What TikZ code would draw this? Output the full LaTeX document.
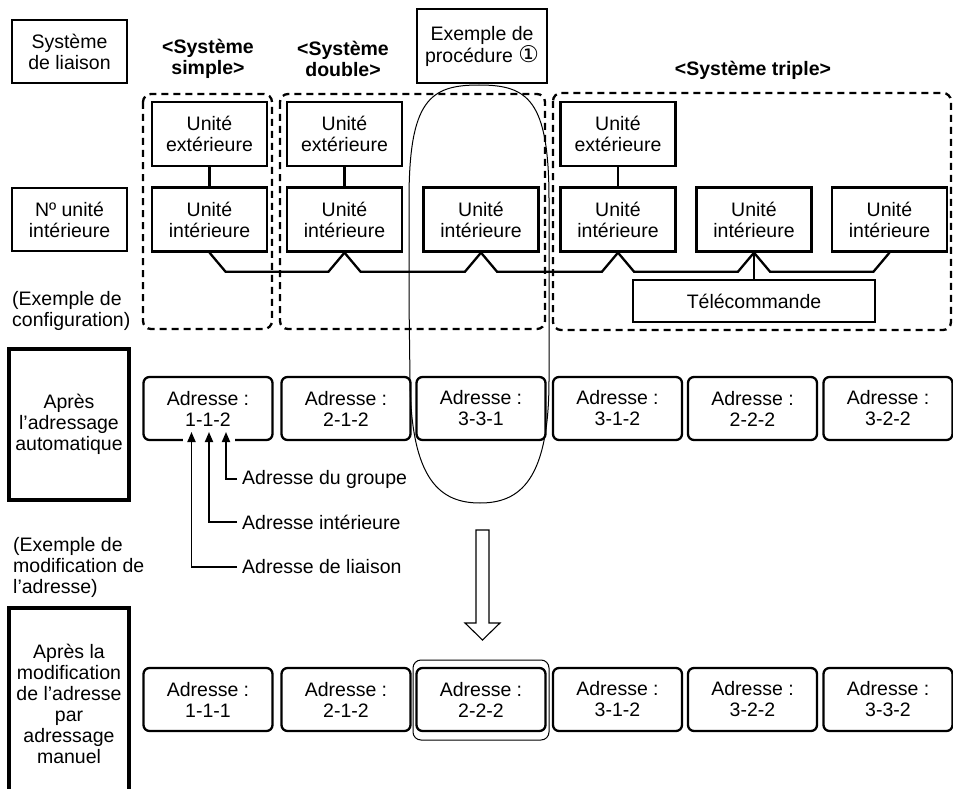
\documentclass[tikz,border=0pt]{standalone}
\usepackage{fontspec}
\setmainfont{Liberation Sans}
\newfontfamily\dejavu{DejaVu Sans}
\usetikzlibrary{arrows.meta,calc}
\begin{document}
\begin{tikzpicture}[x=1pt,y=-1pt,
  font=\fontsize{19.5}{21}\selectfont,
  hbox/.style={draw, line width=2.3pt, align=center, inner sep=0pt},
  unitbox/.style={hbox, minimum width=115pt, minimum height=64pt},
  addrbox/.style={draw, line width=2.3pt, rounded corners=6pt, align=center, inner sep=0pt, minimum width=129pt, minimum height=63pt},
  thickbox/.style={draw, line width=4.5pt, align=center, inner sep=0pt},
  grp/.style={draw, line width=2.3pt, dash pattern=on 7pt off 5pt, rounded corners=8pt},
  wire/.style={line width=2.3pt},
  ptr/.style={line width=1.8pt, -{Triangle[length=10pt,width=8pt]}},
  title/.style={font=\fontsize{19.5}{21}\selectfont\bfseries, align=center, inner sep=0pt},
  lbl/.style={align=left, inner sep=0pt},
  thinline/.style={line width=1pt}
]
\useasboundingbox (0,0) rectangle (953,789);

% header boxes
\node[hbox, minimum width=115pt, minimum height=63pt] (h1) at (69.5,51.5) {Système\\de liaison};
\node[hbox, minimum width=115pt, minimum height=63pt] (h2) at (69.5,219.5) {Nº unité\\intérieure};
\node[hbox, minimum width=130pt, minimum height=74pt] (proc) at (482,46) {Exemple de\\procédure {\dejavu\fontsize{23}{21}\selectfont ①}};

% titles
\node[title] (t1) at (208,58.5) {<Système\\simple>};
\node[title] (t2) at (343,58.5) {<Système\\double>};
\node[title] (t3) at (753,70) {<Système triple>};

% dashed groups
\draw[grp] (143,94) rectangle (272,329);
\draw[grp] (280,94) rectangle (545,329);
\draw[grp] (553,93) rectangle (951,330);

% units
\node[unitbox] (so1) at (209.5,134) {Unité\\extérieure};
\node[unitbox] (si1) at (209.5,219.5) {Unité\\intérieure};
\node[unitbox] (do1) at (344.5,134) {Unité\\extérieure};
\node[unitbox] (di1) at (344.5,219.5) {Unité\\intérieure};
\node[unitbox] (di2) at (481,219.5) {Unité\\intérieure};
\node[unitbox] (to1) at (618,134) {Unité\\extérieure};
\node[unitbox] (ti1) at (618,219.5) {Unité\\intérieure};
\node[unitbox] (ti2) at (754,219.5) {Unité\\intérieure};
\node[unitbox] (ti3) at (889.5,219.5) {Unité\\intérieure};
\node[hbox, minimum width=242pt, minimum height=42pt] (tc) at (754,301) {Télécommande};

\draw[wire] (so1) -- (si1);
\draw[wire] (do1) -- (di1);
\draw[wire] (to1) -- (ti1);
\draw[wire] (ti2.south) -- (tc.north);
\draw[wire, line join=miter]
  (si1.south) -- ([shift={(16,19)}]si1.south)
  -- ([shift={(-16,19)}]di1.south) -- (di1.south) -- ([shift={(16,19)}]di1.south)
  -- ([shift={(-16,19)}]di2.south) -- (di2.south) -- ([shift={(16,19)}]di2.south)
  -- ([shift={(-16,19)}]ti1.south) -- (ti1.south) -- ([shift={(16,19)}]ti1.south)
  -- ([shift={(-16,19)}]ti2.south) -- (ti2.south) -- ([shift={(16,19)}]ti2.south)
  -- ([shift={(-16,19)}]ti3.south) -- (ti3.south);

% left labels
\node[lbl, anchor=west] (cfg) at (12,311) {(Exemple de\\configuration)};
\node[lbl, anchor=west] (mod) at (13,567) {(Exemple de\\modification de\\l’adresse)};

% left thick boxes
\node[thickbox, minimum width=120pt, minimum height=151pt] (auto) at (69,424.5) {Après\\l’adressage\\automatique};
\node[thickbox, minimum width=120pt, minimum height=192pt] (man) at (69,704) {Après la\\modification\\de l’adresse\\par\\adressage\\manuel};

% address row 1
\node[addrbox] (a1) at (208,408.5) {Adresse :\\1-1-2};
\node[addrbox] (a2) at (346,408.5) {Adresse :\\2-1-2};
\node[addrbox] (a3) at (481,408.5) {Adresse :\\3-3-1};
\node[addrbox] (a4) at (617.5,408.5) {Adresse :\\3-1-2};
\node[addrbox] (a5) at (752.5,408.5) {Adresse :\\2-2-2};
\node[addrbox] (a6) at (888,408.5) {Adresse :\\3-2-2};

% address row 2
\node[addrbox] (b1) at (208,699.5) {Adresse :\\1-1-1};
\node[addrbox] (b2) at (346,699.5) {Adresse :\\2-1-2};
\node[addrbox] (b3) at (481,699.5) {Adresse :\\2-2-2};
\node[addrbox] (b4) at (617.5,699.5) {Adresse :\\3-1-2};
\node[addrbox] (b5) at (752.5,699.5) {Adresse :\\3-2-2};
\node[addrbox] (b6) at (888,699.5) {Adresse :\\3-3-2};
\draw[thinline, rounded corners=8pt] (413,660) rectangle (549,740);

% procedure outline
\draw[thinline] (409,300) -- (409,200) .. controls (409,100) and (430,85) .. (479,85)
  .. controls (528,85) and (549,100) .. (549,200) -- (549,380)
  .. controls (549,480) and (520,503) .. (480,503)
  .. controls (440,503) and (411,480) .. (410,380) -- cycle;

% block arrow
\draw[line width=1.1pt, line join=miter] (476,530) -- (489,530) -- (489,623) -- (500,623) -- (482.5,640) -- (465,623) -- (476,623) -- cycle;

% address pointers
\fill[white] (183,437) rectangle (235,446);
\coordinate (p1) at (191.5,432);
\coordinate (p2) at (209,432);
\coordinate (p3) at (226,432);
\node[lbl, anchor=west, inner xsep=5pt] (lg) at (237,479) {Adresse du groupe};
\node[lbl, anchor=west, inner xsep=5pt] (li) at (237,522) {Adresse intérieure};
\node[lbl, anchor=west, inner xsep=5pt] (ll) at (237,567) {Adresse de liaison};
\draw[ptr] (lg.west) -| (p3);
\draw[ptr] (li.west) -| (p2);
\draw[ptr] (ll.west) -| (p1);
\end{tikzpicture}
\end{document}
